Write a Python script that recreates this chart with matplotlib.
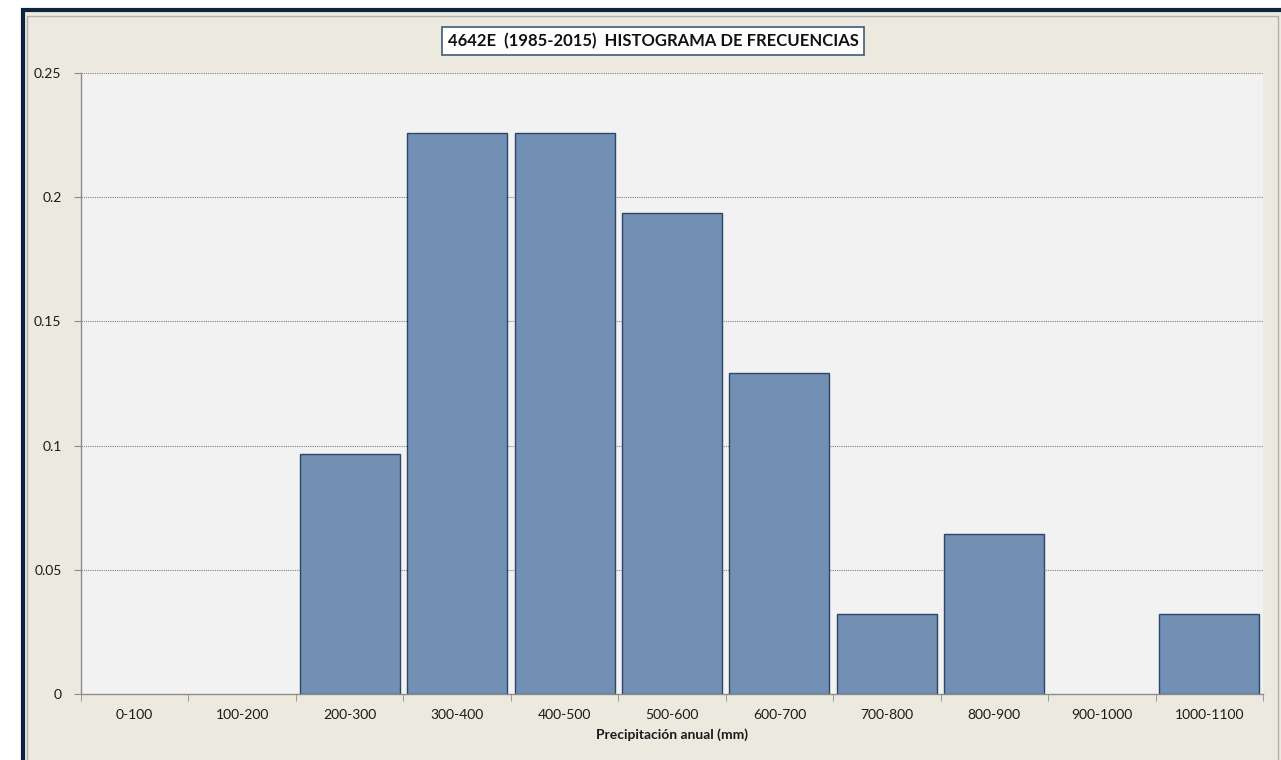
import matplotlib
matplotlib.use("Agg")
import matplotlib.pyplot as plt
from matplotlib.patches import Rectangle

# Annual precipitation classes (mm) and relative frequency, 31 years of record
categories = ["0-100", "100-200", "200-300", "300-400", "400-500", "500-600",
              "600-700", "700-800", "800-900", "900-1000", "1000-1100"]
counts = [0, 0, 3, 7, 7, 6, 4, 1, 2, 0, 1]
n_years = 31
frequencies = [c / n_years for c in counts]
y_ticks = [0, 0.05, 0.1, 0.15, 0.2, 0.25]
y_tick_labels = ["0", "0.05", "0.1", "0.15", "0.2", "0.25"]

W, H = 1281, 760
fig = plt.figure(figsize=(W / 100, H / 100), dpi=100)
fig.patch.set_facecolor("white")

# Outer dark frame and beige chart area
fig.patches.append(Rectangle((23 / W, -0.05), 1.1, (H - 10) / H + 0.05,
                             transform=fig.transFigure, facecolor="#ECE9DF",
                             edgecolor="#0F2240", linewidth=3, zorder=-10))
fig.patches.append(Rectangle((27 / W, -0.05), (1278 - 27) / W, (H - 16) / H + 0.05,
                             transform=fig.transFigure, facecolor="#ECE9DF",
                             edgecolor="#B0B0B0", linewidth=1, zorder=-9))

ax = fig.add_axes([81 / W, 1 - 694 / H, (1263 - 81) / W, (694 - 73) / H])
ax.set_facecolor("#F2F2F2")

x = range(len(categories))
edge_widths = [1.0 if f > 0 else 0.0 for f in frequencies]
ax.bar(x, frequencies, width=0.93, color="#728FB4", edgecolor="#2C4569",
       linewidth=edge_widths, zorder=3)

ax.set_xlim(-0.5, len(categories) - 0.5)
ax.set_ylim(0, 0.25)
ax.set_yticks(y_ticks)
ax.set_yticklabels(y_tick_labels)
ax.set_xticks(x)
ax.set_xticklabels(categories)
ax.set_xticks([i - 0.5 for i in range(len(categories) + 1)], minor=True)

for y in y_ticks[1:]:
    ax.axhline(y, color="#808080", linestyle=(0, (1, 1)), linewidth=0.8, zorder=1)

for side in ("top", "right"):
    ax.spines[side].set_visible(False)
for side in ("left", "bottom"):
    ax.spines[side].set_color("#8C8C8C")
    ax.spines[side].set_linewidth(1.0)
    ax.spines[side].set_zorder(4)

ax.tick_params(axis="x", which="major", length=0, pad=11, labelsize=10,
               labelcolor="#1A1A1A")
ax.tick_params(axis="x", which="minor", length=5, color="#8C8C8C")
ax.tick_params(axis="y", length=5, color="#8C8C8C", labelsize=10,
               labelcolor="#1A1A1A", pad=9)
for lab in ax.get_xticklabels() + ax.get_yticklabels():
    lab.set_family("Lato")

ax.set_xlabel("Precipitación anual (mm)", family="Lato", fontweight="bold",
              fontsize=10, color="#1A1A1A", labelpad=5)

fig.text(653 / W, 1 - 41 / H, "4642E  (1985-2015)  HISTOGRAMA DE FRECUENCIAS",
         family="Lato", fontweight="bold", fontsize=12, color="#111111",
         ha="center", va="center",
         bbox=dict(boxstyle="square,pad=0.35", facecolor="white",
                   edgecolor="#3F5A7E", linewidth=1.2))

fig.savefig("out.png", dpi=100)
